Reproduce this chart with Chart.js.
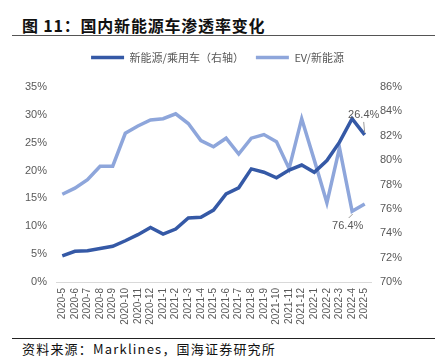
<!DOCTYPE html>
<html>
<head>
<meta charset="utf-8">
<script src="https://cdn.jsdelivr.net/npm/chart.js@4"></script>
<style>
  html,body{margin:0;padding:0;background:#fff;width:435px;height:362px;overflow:hidden;}
  #title{position:absolute;left:22px;top:13px;font-family:"Noto Sans CJK SC",sans-serif;font-weight:bold;font-size:16px;letter-spacing:0.8px;color:#111;line-height:24px;white-space:nowrap;}
  #tline{position:absolute;left:12px;top:35px;width:423px;height:1px;background:#555;}
  #wrap{position:absolute;left:0;top:40px;width:435px;height:295px;}
  #bline{position:absolute;left:12px;top:338px;width:423px;height:1px;background:#222;}
  #foot{position:absolute;left:22px;top:340px;font-family:"Noto Sans CJK SC",sans-serif;font-size:13px;letter-spacing:1.2px;color:#111;line-height:18px;white-space:nowrap;}
</style>
</head>
<body>
<div id="title">图 11：国内新能源车渗透率变化</div>
<div id="tline"></div>
<div id="wrap"><canvas id="c" width="435" height="295"></canvas></div>
<div id="bline"></div>
<div id="foot">资料来源：Marklines，国海证券研究所</div>
<script>
const categories = ["2020-5","2020-6","2020-7","2020-8","2020-9","2020-10","2020-11","2020-12","2021-1","2021-2","2021-3","2021-4","2021-5","2021-6","2021-7","2021-8","2021-9","2021-10","2021-11","2021-12","2022-1","2022-2","2022-3","2022-4","2022-5"];
const nevShare = [4.7,5.5,5.6,6.0,6.4,7.4,8.5,9.8,8.6,9.5,11.5,11.6,12.9,15.8,16.9,20.3,19.7,18.7,20.1,21.0,19.7,21.8,25.1,29.3,26.4];
const evShare = [77.2,77.7,78.4,79.5,79.5,82.2,82.8,83.3,83.4,83.8,83.0,81.6,81.1,81.8,80.5,81.8,82.1,81.5,79.3,83.4,80.0,76.5,81.0,75.8,76.4];
const leftTicks = [0,5,10,15,20,25,30,35];
const rightTicks = [70,72,74,76,78,80,82,84,86];
const seriesNames = ["新能源/乘用车（右轴）","EV/新能源"];
const dataLabels = [{series:0,index:24,text:"26.4%"},{series:1,index:24,text:"76.4%"}];

const DARK = "#3559A6", LIGHT = "#8EA6DB", GRAY = "#595959";

const legendSpace = {
  id:"legendSpace",
  afterInit(chart){
    const lg = chart.legend;
    if(!lg) return;
    const orig = lg.fit.bind(lg);
    lg.fit = function(){ orig(); this.height += 14; };
  }
};

const labelPlugin = {
  id:"pointLabels",
  afterDatasetsDraw(chart){
    const ctx = chart.ctx;
    ctx.save();
    ctx.font = "11px 'Liberation Sans', Arial, sans-serif";
    ctx.fillStyle = GRAY;
    ctx.textAlign = "center";
    ctx.strokeStyle = "#9a9a9a";
    ctx.lineWidth = 1;
    dataLabels.forEach(d=>{
      const p = chart.getDatasetMeta(d.series).data[d.index];
      if(d.series===0){
        ctx.textBaseline = "bottom";
        ctx.fillText(d.text, p.x-1, p.y-14);
        ctx.beginPath(); ctx.moveTo(p.x-1, p.y-13); ctx.lineTo(p.x, p.y-2); ctx.stroke();
      } else {
        ctx.textBaseline = "top";
        ctx.fillText(d.text, p.x-17, p.y+16);
        ctx.beginPath(); ctx.moveTo(p.x-16, p.y+14); ctx.lineTo(p.x-12, p.y+10); ctx.stroke();
      }
    });
    ctx.restore();
  }
};

new Chart(document.getElementById("c"), {
  type:"line",
  data:{
    labels:categories,
    datasets:[
      {label:seriesNames[0], data:nevShare, yAxisID:"y", borderColor:DARK, backgroundColor:DARK, borderWidth:3.5, pointRadius:0, tension:0},
      {label:seriesNames[1], data:evShare, yAxisID:"y1", borderColor:LIGHT, backgroundColor:LIGHT, borderWidth:3.5, pointRadius:0, tension:0}
    ]
  },
  options:{
    responsive:false, animation:false,
    layout:{padding:{left:0,right:0,top:0,bottom:0}},
    plugins:{
      legend:{
        display:true, position:"top",
        labels:{usePointStyle:true, pointStyle:"line", pointStyleWidth:33, boxHeight:10, padding:12,
          color:GRAY, font:{family:"'Noto Sans CJK SC', sans-serif", size:11}}
      },
      tooltip:{enabled:false}
    },
    scales:{
      x:{
        offset:true,
        grid:{display:false, drawTicks:false},
        border:{display:true, color:"#d9d9d9", width:1},
        ticks:{autoSkip:false, minRotation:90, maxRotation:90, padding:6, color:GRAY,
          font:{family:"'Liberation Sans', Arial, sans-serif", size:10}},
        afterFit(s){ s.height = 53; }
      },
      y:{
        position:"left", min:0, max:35,
        afterBuildTicks(s){ s.ticks = leftTicks.map(v=>({value:v})); },
        grid:{display:false, drawTicks:false},
        border:{display:false},
        ticks:{padding:9, color:GRAY, font:{family:"'Liberation Sans', Arial, sans-serif", size:11}, callback:v=>v+"%"},
        afterFit(s){ s.width = 56; }
      },
      y1:{
        position:"right", min:70, max:86,
        afterBuildTicks(s){ s.ticks = rightTicks.map(v=>({value:v})); },
        grid:{display:false, drawTicks:false},
        border:{display:false},
        ticks:{padding:9, color:GRAY, font:{family:"'Liberation Sans', Arial, sans-serif", size:11}, callback:v=>v+"%"},
        afterFit(s){ s.width = 64; }
      }
    }
  },
  plugins:[legendSpace, labelPlugin]
});
</script>
</body>
</html>
